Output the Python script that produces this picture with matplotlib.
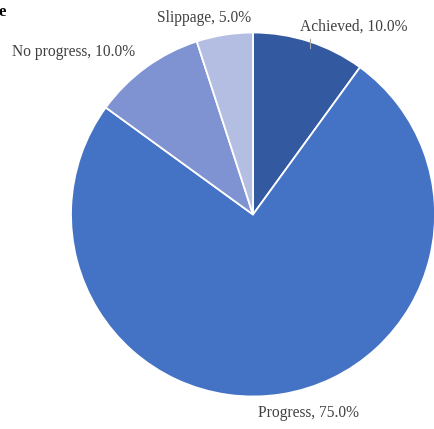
import matplotlib
matplotlib.use("Agg")
import matplotlib.pyplot as plt

categories = ["Achieved", "Progress", "No progress", "Slippage"]
shares = [10.0, 75.0, 10.0, 5.0]
colors = ["#335AA0", "#4472C4", "#7F93D2", "#B4BEE2"]

W, H = 435, 429
fig = plt.figure(figsize=(W / 100, H / 100), dpi=100)
ax = fig.add_axes([0, 0, 1, 1])

cx, cy, r = 253, H - 214.5, 182
ax.pie(shares, colors=colors, startangle=90, counterclock=False,
       center=(cx, cy), radius=r, frame=True,
       wedgeprops=dict(edgecolor="white", linewidth=1.3))
ax.set_xlim(0, W)
ax.set_ylim(0, H)
ax.set_aspect("equal")
ax.axis("off")

font = dict(family="Liberation Serif", fontsize=11.2, color="#404040")
label_pos = {
    "Achieved": (354, H - 27),
    "Progress": (309, H - 413),
    "No progress": (74, H - 52),
    "Slippage": (204, H - 18),
}
for name, val in zip(categories, shares):
    x, y = label_pos[name]
    ax.text(x, y, f"{name}, {val:.1f}%", ha="center", va="center", **font)

# leader line for the Achieved label
ax.plot([310, 310], [H - 39, H - 48], color="#A6A6A6", linewidth=0.8)

# trailing character of the clipped heading
ax.text(-1.5, H - 12, "e", family="Liberation Serif", fontsize=12,
        fontweight="bold", color="black", ha="left", va="center")

fig.savefig("out.png", dpi=100)
